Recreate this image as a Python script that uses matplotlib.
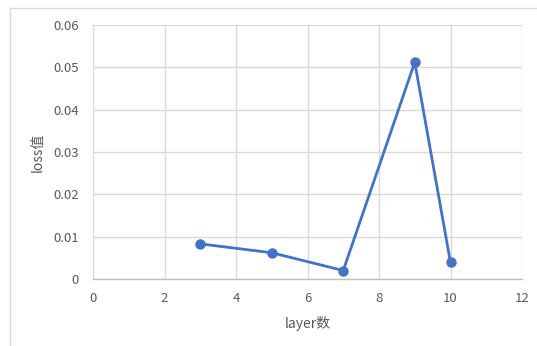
import matplotlib
matplotlib.use("Agg")
import matplotlib.pyplot as plt
from matplotlib.lines import Line2D

plt.rcParams['font.family'] = ['Noto Sans CJK SC', 'DejaVu Sans']

layers = [3, 5, 7, 9, 10]
loss = [0.0083, 0.0062, 0.0020, 0.0512, 0.0039]

x_ticks = [0, 2, 4, 6, 8, 10, 12]
y_ticks = [0, 0.01, 0.02, 0.03, 0.04, 0.05, 0.06]
y_tick_labels = ['0', '0.01', '0.02', '0.03', '0.04', '0.05', '0.06']

W, H = 537, 346
fig = plt.figure(figsize=(W / 100, H / 100), dpi=100)
ax = fig.add_axes([93 / W, 1 - 279 / H, (522 - 93) / W, (279 - 25) / H])

grid_c = '#d9d9d9'
text_c = '#595959'

ax.plot(layers, loss, color='#4472C4', linewidth=2, marker='o', markersize=6.5,
        zorder=3, clip_on=False)

ax.set_xlim(0, 12)
ax.set_ylim(0, 0.06)
ax.set_xticks(x_ticks)
ax.set_yticks(y_ticks)
ax.set_yticklabels(y_tick_labels)
ax.grid(True, color=grid_c, linewidth=1)
ax.set_axisbelow(True)

for s in ['top', 'right', 'left']:
    ax.spines[s].set_visible(False)
ax.spines['bottom'].set_color('#bfbfbf')
ax.spines['bottom'].set_linewidth(1)

ax.tick_params(length=0, labelsize=9.5, labelcolor=text_c)
ax.tick_params(axis='y', pad=10)
ax.tick_params(axis='x', pad=9)

ax.set_xlabel('layer数', fontsize=10, color=text_c, labelpad=8)
ax.set_ylabel('loss值', fontsize=10, color=text_c, labelpad=6)

# outer chart frame
fig.add_artist(Line2D([10 / W, 10 / W], [0, 1 - 8 / H], color=grid_c, linewidth=1))
fig.add_artist(Line2D([10 / W, 1], [1 - 8 / H, 1 - 8 / H], color=grid_c, linewidth=1))

fig.savefig('out.png', dpi=100)
